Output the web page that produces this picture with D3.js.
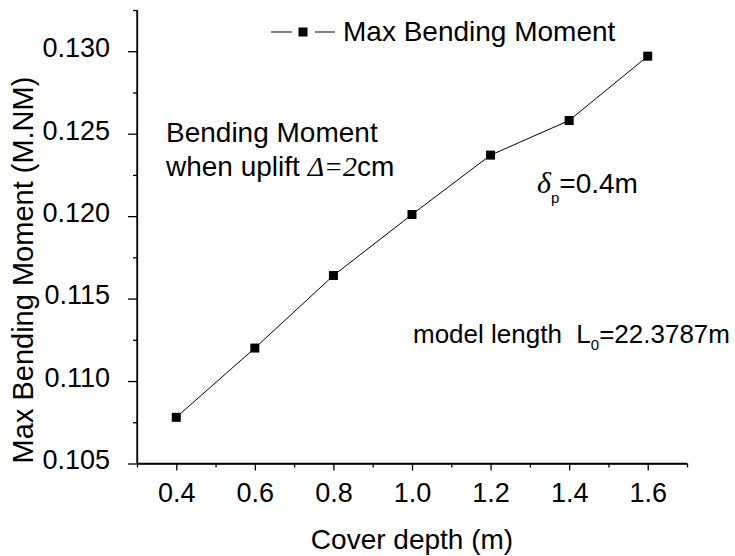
<!DOCTYPE html>
<html>
<head>
<meta charset="utf-8">
<script src="https://cdn.jsdelivr.net/npm/d3@7"></script>
<style>
  body { margin: 0; background: #fff; }
  svg { display: block; font-family: "Liberation Sans", Arial, sans-serif; }
  .axis path, .axis line { stroke: #000; stroke-width: 1.3; }
  .axis text { font-family: "Liberation Sans", Arial, sans-serif; fill: #000; }
</style>
</head>
<body>
<svg id="chart"></svg>
<script>
const width = 735;
const height = 556;

// data
const coverDepth = [0.4, 0.6, 0.8, 1.0, 1.2, 1.4, 1.6];
const maxMoment = [0.1078, 0.1120, 0.1164, 0.1201, 0.1237, 0.1258, 0.1297];
const xTicks = [0.4, 0.6, 0.8, 1.0, 1.2, 1.4, 1.6];
const xMinorTicks = [0.3, 0.5, 0.7, 0.9, 1.1, 1.3, 1.5, 1.7];
const yTicks = [0.105, 0.110, 0.115, 0.120, 0.125, 0.130];
const yMinorTicks = [0.1075, 0.1125, 0.1175, 0.1225, 0.1275, 0.1325];

const svg = d3.select("#chart")
    .attr("width", width)
    .attr("height", height);

// scales
const x = d3.scaleLinear().domain([0.3, 1.7]).range([137, 687]);
const y = d3.scaleLinear().domain([0.105, 0.1325]).range([463.5, 10]);

// axes
const xAxis = d3.axisBottom(x).tickValues(xTicks).tickFormat(d3.format(".1f")).tickSize(7).tickPadding(12);
const xMinor = d3.axisBottom(x).tickValues(xMinorTicks).tickFormat("").tickSize(4).tickSizeOuter(0);
const yAxis = d3.axisLeft(y).tickValues(yTicks).tickFormat(d3.format(".3f")).tickSize(9).tickPadding(18);
const yMinor = d3.axisLeft(y).tickValues(yMinorTicks).tickFormat("").tickSize(4).tickSizeOuter(0);

const gx = svg.append("g").attr("class", "axis").attr("transform", "translate(0,463.5)").call(xAxis);
svg.append("g").attr("class", "axis").attr("transform", "translate(0,463.5)").call(xMinor);
gx.select(".domain").attr("d", `M${x(0.3)},0H${x(1.7)}`);
gx.selectAll("text").attr("font-size", 27).attr("dy", "0.71em");

const gy = svg.append("g").attr("class", "axis").attr("transform", "translate(137,0)").call(yAxis);
svg.append("g").attr("class", "axis").attr("transform", "translate(137,0)").call(yMinor);
gy.select(".domain").attr("d", `M0,${y(0.105)}V${y(0.1325)}`);
gy.selectAll("text").attr("font-size", 27).attr("dy", "0.2em");

// axis titles
svg.append("text")
    .attr("x", 412).attr("y", 549)
    .attr("text-anchor", "middle")
    .attr("font-size", 28)
    .text("Cover depth (m)");

svg.append("text")
    .attr("transform", "translate(33,270) rotate(-90)")
    .attr("text-anchor", "middle")
    .attr("font-size", 29)
    .text("Max Bending Moment (M.NM)");

// series line and markers
const line = d3.line().x((d, i) => x(coverDepth[i])).y(d => y(d));
svg.append("path")
    .datum(maxMoment)
    .attr("d", line)
    .attr("fill", "none")
    .attr("stroke", "#000")
    .attr("stroke-width", 1);

svg.selectAll(".dot")
    .data(maxMoment)
    .enter()
    .append("rect")
    .attr("class", "dot")
    .attr("x", (d, i) => x(coverDepth[i]) - 4.5)
    .attr("y", d => y(d) - 4.5)
    .attr("width", 9)
    .attr("height", 9)
    .attr("fill", "#000");

// legend
const legend = svg.append("g").attr("transform", "translate(271,32)");
legend.append("line").attr("x1", 0).attr("x2", 21).attr("stroke", "#000").attr("stroke-width", 1);
legend.append("line").attr("x1", 44).attr("x2", 64).attr("stroke", "#000").attr("stroke-width", 1);
legend.append("rect").attr("x", 27.5).attr("y", -4.5).attr("width", 9).attr("height", 9).attr("fill", "#000");
legend.append("text").attr("x", 72).attr("y", 9).attr("font-size", 28).text("Max Bending Moment");

// annotations
svg.append("text").attr("x", 166).attr("y", 142).attr("font-size", 28).text("Bending Moment");
const t2 = svg.append("text").attr("x", 166).attr("y", 176).attr("font-size", 28);
t2.append("tspan").text("when uplift ");
t2.append("tspan").attr("font-family", "Liberation Serif, serif").attr("font-style", "italic").text("Δ=2");
t2.append("tspan").text("cm");

const t3 = svg.append("text").attr("x", 537).attr("y", 193).attr("font-size", 28);
t3.append("tspan").attr("font-family", "Liberation Serif, serif").attr("font-style", "italic").attr("font-size", 30).text("δ");
t3.append("tspan").attr("font-size", 15).attr("dy", 10).text("p");
t3.append("tspan").attr("dy", -10).text("=0.4m");

const t4 = svg.append("text").attr("x", 413).attr("y", 343).attr("font-size", 26).style("white-space", "pre");
t4.append("tspan").text("model length  L");
t4.append("tspan").attr("font-size", 15).attr("dy", 7).text("0");
t4.append("tspan").attr("dy", -7).text("=22.3787m");
</script>
</body>
</html>
